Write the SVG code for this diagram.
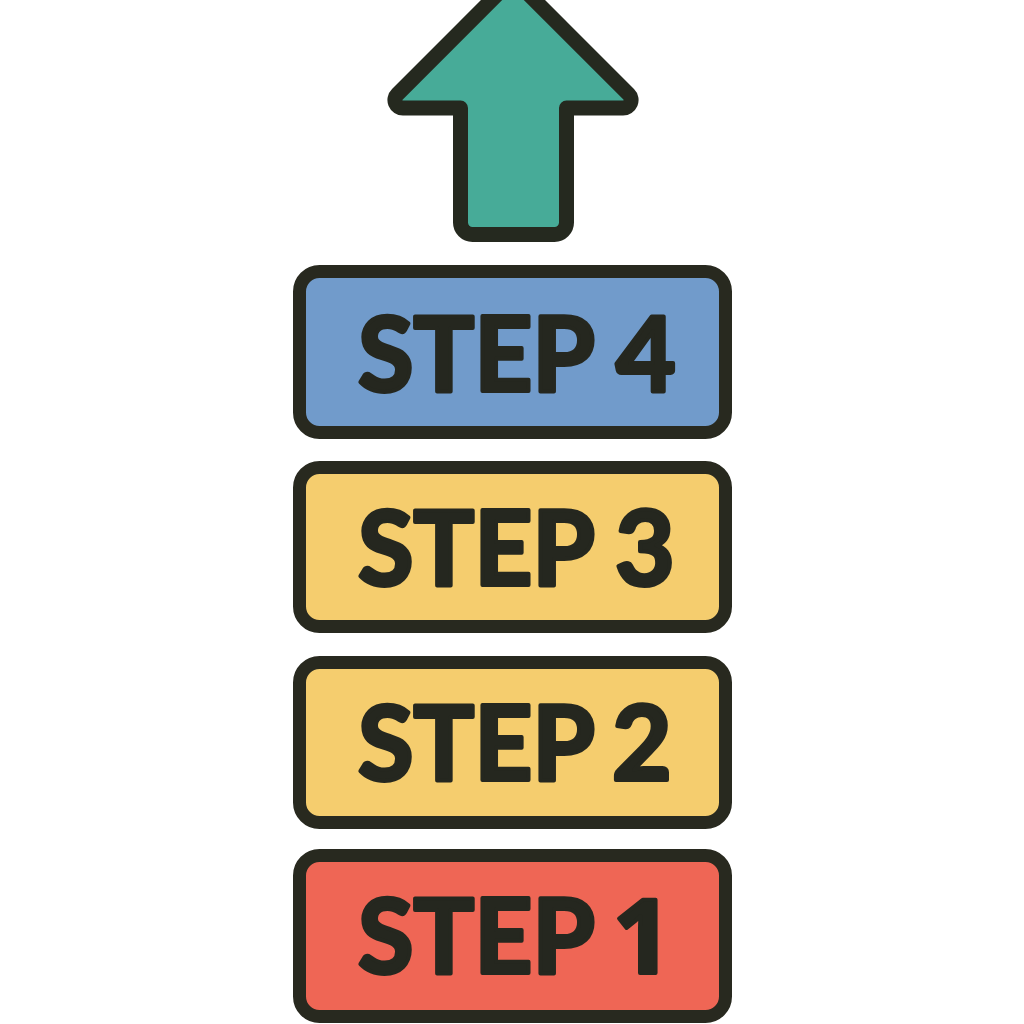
<svg xmlns="http://www.w3.org/2000/svg" width="1024" height="1024" viewBox="0 0 1024 1024">
<style>
.box{stroke:#28291f;stroke-width:13}
.t{font-family:"Lato","Liberation Sans",sans-serif;font-weight:700;font-size:103px;fill:#25271f;stroke:#25271f;stroke-width:4;stroke-linejoin:round}
.o{font-family:"Open Sans","Liberation Sans",sans-serif}
</style>
<rect width="1024" height="1024" fill="#fff"/>
<g id="arrow"><path d="M513 -21.400 L628.700 94.300 A8 8 0 0 1 623 108 L566.500 108 L566.500 222.500 A12 12 0 0 1 554.500 234.500 L472.500 234.500 A12 12 0 0 1 460.500 222.500 L460.500 108 L403 108 A8 8 0 0 1 397.300 94.300 Z" fill="#47ab98" stroke="#25291f" stroke-width="15" stroke-linejoin="round"/></g>
<g id="step4"><rect class="box" x="299.500" y="271.500" width="426" height="161" rx="20" fill="#719bcb"/><text class="t" x="358" y="391" textLength="237" lengthAdjust="spacingAndGlyphs">STEP</text><text class="t" x="616" y="391">4</text></g>
<g id="step3"><rect class="box" x="299.500" y="467.500" width="426" height="159" rx="20" fill="#f5cd6e"/><text class="t" x="358" y="585" textLength="237" lengthAdjust="spacingAndGlyphs">STEP</text><text class="t" x="615" y="585">3</text></g>
<g id="step2"><rect class="box" x="299.500" y="662.500" width="426" height="160" rx="20" fill="#f5cd6e"/><text class="t" x="358" y="780" textLength="237" lengthAdjust="spacingAndGlyphs">STEP</text><text class="t" x="612" y="780">2</text></g>
<g id="step1"><rect class="box" x="299.500" y="855.500" width="426" height="161" rx="20" fill="#ef6655"/><text class="t" x="358" y="973" textLength="237" lengthAdjust="spacingAndGlyphs">STEP</text><text class="t o" x="613" y="973">1</text></g>
<g id="connectors"></g>
</svg>
